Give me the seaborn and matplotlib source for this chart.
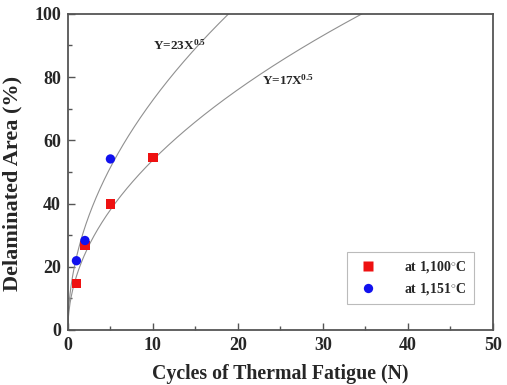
import numpy as np
import pandas as pd
import matplotlib
matplotlib.use('Agg')
import matplotlib.pyplot as plt
import seaborn as sns
from matplotlib.ticker import MultipleLocator

# measured points
cycles_1100 = [1, 2, 5, 10]
area_1100 = [14.6, 26.7, 39.8, 54.6]
cycles_1151 = [1, 2, 5]
area_1151 = [21.9, 28.3, 54.1]

# fitted curves Y = a * X^0.5
fit_coefs = [23, 17]
fit_labels = ['Y=23X$^{0.5}$', 'Y=17X$^{0.5}$']

sns.set_theme(style='ticks')
plt.rcParams['font.family'] = ['Liberation Serif', 'DejaVu Serif']
plt.rcParams['font.weight'] = 'bold'
plt.rcParams['mathtext.fontset'] = 'custom'
plt.rcParams['mathtext.rm'] = 'Liberation Serif:bold'
plt.rcParams['mathtext.it'] = 'Liberation Serif:bold'

df = pd.concat([
    pd.DataFrame({'N': cycles_1100, 'area': area_1100, 'temp': 'at 1,100$^{\\circ}$C'}),
    pd.DataFrame({'N': cycles_1151, 'area': area_1151, 'temp': 'at 1,151$^{\\circ}$C'}),
])

fig, ax = plt.subplots(figsize=(5.07, 3.85), dpi=100)
fig.subplots_adjust(left=0.134, right=0.972, top=0.964, bottom=0.143)

xs = np.linspace(0, 50, 800)
for a in fit_coefs:
    ax.plot(xs, a * np.sqrt(xs), color='#909090', lw=0.8, zorder=1)

sns.scatterplot(data=df, x='N', y='area', hue='temp', style='temp',
                palette=['#ee1111', '#1111ee'], markers=['s', 'o'],
                s=45, edgecolor='none', ax=ax, zorder=3)

ax.text(10, 90, fit_labels[0], fontsize=9.5, va='center')
ax.text(22.8, 79, fit_labels[1], fontsize=9.5, va='center')

ax.set_xlim(0, 50)
ax.set_ylim(0, 100)
ax.xaxis.set_major_locator(MultipleLocator(10))
ax.xaxis.set_minor_locator(MultipleLocator(5))
ax.yaxis.set_major_locator(MultipleLocator(20))
ax.yaxis.set_minor_locator(MultipleLocator(10))
ax.tick_params(which='both', direction='in', top=False, right=False,
               color='#555555', labelsize=13)
ax.tick_params(which='major', length=5, width=1, pad=5)
ax.tick_params(which='minor', length=3, width=1)
for s in ax.spines.values():
    s.set_color('#555555')
    s.set_linewidth(1.3)

ax.set_xlabel('Cycles of Thermal Fatigue (N)', fontsize=14.3, fontweight='bold', labelpad=7)
ax.set_ylabel('Delaminated Area (%)', fontsize=16, fontweight='bold')
ax.yaxis.set_label_coords(-0.106, 0.465)

leg = ax.legend(loc='lower right', bbox_to_anchor=(0.955, 0.082), borderaxespad=0,
                fontsize=10, frameon=True, fancybox=False, handletextpad=1.6,
                borderpad=0.5, labelspacing=0.45)
leg.get_frame().set_edgecolor('#aaaaaa')
leg.get_frame().set_linewidth(0.8)

fig.savefig('out.png', dpi=100)
